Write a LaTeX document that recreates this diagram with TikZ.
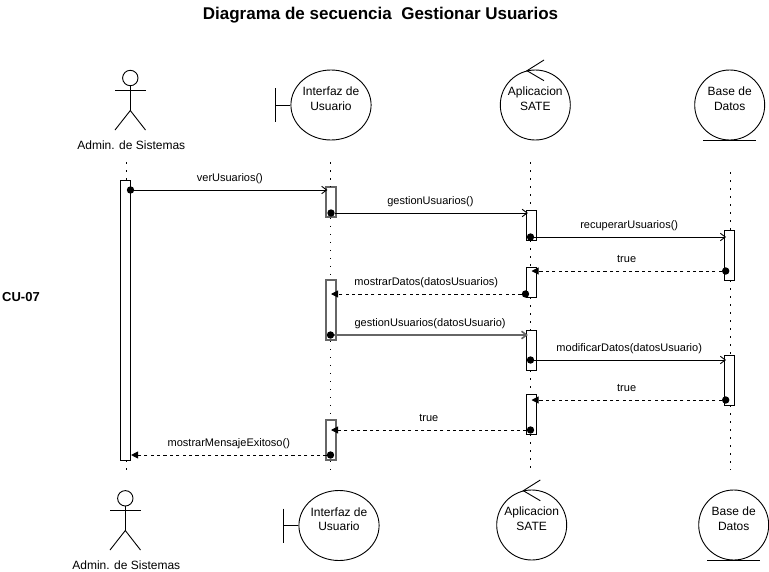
\documentclass[tikz,border=0pt]{standalone}
\usepackage{fontspec}
\setmainfont{Liberation Sans}
\usetikzlibrary{arrows.meta,shapes.geometric}
\tikzset{
  every node/.style={font=\fontsize{12}{14.5}\selectfont},
  entity/.style={draw,line width=0.9pt,circle,minimum size=70pt,inner sep=0pt,align=center,text height=11pt},
  head/.style={draw,line width=0.9pt,circle,minimum size=15.4pt,inner sep=0pt},
  part/.style={line width=0.9pt},
  lifeline/.style={line width=1.6pt,dash pattern=on 1.6pt off 6.4pt},
  activ/.style={draw,fill=white,line width=0.9pt,minimum width=10.4pt,inner sep=0pt},
  activgrey/.style={activ,draw=black!60,line width=1.6pt,minimum width=9.6pt},
  msgdot/.style={circle,fill=black,minimum size=7.4pt,inner sep=0pt},
  call/.style={line width=0.9pt,shorten >=-2pt,-{Straight Barb[length=5pt,width=7.5pt]}},
  reply/.style={line width=0.9pt,dash pattern=on 3.2pt off 3.2pt,-{Triangle[length=7pt,width=7pt]}},
  msg/.style={midway,anchor=base,yshift=8.7pt,inner sep=0pt,font=\fontsize{11}{13}\selectfont}
}
\begin{document}
\begin{tikzpicture}[x=1pt,y=-1pt]
    \useasboundingbox (0,0) rectangle (769,571);

    % Titulo y caso de uso
    \node[font=\fontsize{17}{20}\bfseries\selectfont] (titulo) at (380.5,15.5) {Diagrama de secuencia \ Gestionar Usuarios};
    \node[anchor=west,inner sep=0pt,font=\fontsize{13}{15}\bfseries\selectfont] (cu) at (2,297) {CU-07};

    % Entidades de arriba
    \node[head] (adminhead) at (130.3,78) {};
    \coordinate (adminhip) at (130.3,110.5);
    \draw[part] (adminhead) -- (adminhip);
    \draw[part] (115,90) -- (145.5,90);
    \draw[part] (115,130) -- (adminhip) -- (145.5,130);
    \node (adminname) at (131.3,145) {Admin. de Sistemas};

    \node[entity,shape=ellipse,minimum width=79pt,minimum height=70pt] (ui) at (331,105) {Interfaz de\\Usuario};
    \coordinate (uibar) at (275.3,105);
    \draw[part] (275.3,88) -- (275.3,122);
    \draw[part] (uibar) -- (ui);

    \node[entity] (sate) at (535.3,105) {Aplicacion\\SATE};
    \coordinate (sateapex) at (527,70.7);
    \draw[part] (544,60) -- (sateapex) -- (544,80.7);

    \node[entity] (bd) at (729.7,105) {Base de\\Datos};
    \draw[part] (703,140) -- (756,140);

    % Entidades de abajo
    \node[head] (adminheadb) at (125.3,498.3) {};
    \coordinate (adminhipb) at (125.3,530.5);
    \draw[part] (adminheadb) -- (adminhipb);
    \draw[part] (110,510) -- (140.5,510);
    \draw[part] (110,550) -- (adminhipb) -- (140.5,550);
    \node (adminnameb) at (126.3,565) {Admin. de Sistemas};

    \node[entity,shape=ellipse,minimum width=79pt,minimum height=70pt] (uib) at (339,525.5) {Interfaz de\\Usuario};
    \coordinate (uibarb) at (283.3,525.5);
    \draw[part] (283.3,508.5) -- (283.3,542.5);
    \draw[part] (uibarb) -- (uib);

    \node[entity] (sateb) at (531.7,525) {Aplicacion\\SATE};
    \coordinate (sateapexb) at (523.3,490.7);
    \draw[part] (540.3,480) -- (sateapexb) -- (540.3,500.7);

    \node[entity] (bdb) at (733.7,525) {Base de\\Datos};
    \draw[part] (707,560.3) -- (760,560.3);

    % Cajas de activacion
    \node[activ,minimum height=280pt] (admin1) at (125.4,320) {};

    \node[activgrey,minimum height=30pt] (ui1) at (331,202) {};
    \node[activgrey,minimum height=60pt] (ui2) at (331,310) {};
    \node[activgrey,minimum height=40pt] (ui3) at (331,440) {};

    \node[activ,minimum height=30pt] (sate1) at (531.5,225) {};
    \node[activ,minimum height=30pt] (sate2) at (531.5,282) {};
    \node[activ,minimum height=40pt] (sate3) at (531.5,350) {};
    \node[activ,minimum height=40pt] (sate4) at (531.5,414) {};

    \node[activ,minimum height=50pt] (bd1) at (729.7,255) {};
    \node[activ,minimum height=50pt] (bd2) at (729.7,380) {};

    % Lineas de vida
    \coordinate (admintop) at (126.5,162);
    \coordinate (adminend) at (126.5,470);
    \coordinate (uitop) at (330.5,162);
    \coordinate (uiend) at (330.5,470);
    \coordinate (satetop) at (530.5,162);
    \coordinate (sateend) at (530.5,470);
    \coordinate (bdtop) at (730.5,172);
    \coordinate (bdend) at (730.5,470);
    \draw[lifeline] (admintop) -- (admintop |- admin1.north);
    \draw[lifeline] (admintop |- admin1.south) -- (adminend);
    \draw[lifeline] (uitop) -- (uitop |- ui1.north);
    \draw[lifeline] (uitop |- ui1.south) -- (uitop |- ui2.north);
    \draw[lifeline] (uitop |- ui2.south) -- (uitop |- ui3.north);
    \draw[lifeline] (uitop |- ui3.south) -- (uiend);
    \draw[lifeline] (satetop) -- (satetop |- sate1.north);
    \draw[lifeline] (satetop |- sate1.south) -- (satetop |- sate2.north);
    \draw[lifeline] (satetop |- sate2.south) -- (satetop |- sate3.north);
    \draw[lifeline] (satetop |- sate3.south) -- (satetop |- sate4.north);
    \draw[lifeline] (satetop |- sate4.south) -- (sateend);
    \draw[lifeline] (bdtop) -- (bdtop |- bd1.north);
    \draw[lifeline] (bdtop |- bd1.south) -- (bdtop |- bd2.north);
    \draw[lifeline] (bdtop |- bd2.south) -- (bdend);

    % Puntos de salida de los mensajes
    \node[msgdot] (m1) at (130.5,190) {};
    \node[msgdot] (m2) at (331,213) {};
    \node[msgdot] (m3) at (530.5,237) {};
    \node[msgdot] (m4) at (725.7,271) {};
    \node[msgdot] (m5) at (525.5,294) {};
    \node[msgdot] (m6) at (330.5,335) {};
    \node[msgdot] (m7) at (530.5,360) {};
    \node[msgdot] (m8) at (725.7,400) {};
    \node[msgdot] (m9) at (530.5,430) {};
    \node[msgdot] (m10) at (330.5,455) {};

    % Mensajes
    \draw[call] (m1) -- (ui1.west |- m1) node[msg] (l1) {verUsuarios()};
    \draw[call] (m2) -- (sate1.west |- m2) node[msg] (l2) {gestionUsuarios()};
    \draw[call] (m3) -- (bd1.west |- m3) node[msg] (l3) {recuperarUsuarios()};
    \draw[reply] (m4) -- (sate2 |- m4) node[msg] (l4) {true};
    \draw[reply] (m5) -- (ui2 |- m5) node[msg] (l5) {mostrarDatos(datosUsuarios)};
    \draw[call,draw=black!60,line width=1.6pt] (m6) -- (sate3.west |- m6) node[msg,text=black] (l6) {gestionUsuarios(datosUsuario)};
    \draw[call] (m7) -- (bd2.west |- m7) node[msg] (l7) {modificarDatos(datosUsuario)};
    \draw[reply] (m8) -- (sate4 |- m8) node[msg] (l8) {true};
    \draw[reply] (m9) -- (ui3 |- m9) node[msg] (l9) {true};
    \draw[reply] (m10) -- (admin1.east |- m10) node[msg] (l10) {mostrarMensajeExitoso()};
\end{tikzpicture}
\end{document}
